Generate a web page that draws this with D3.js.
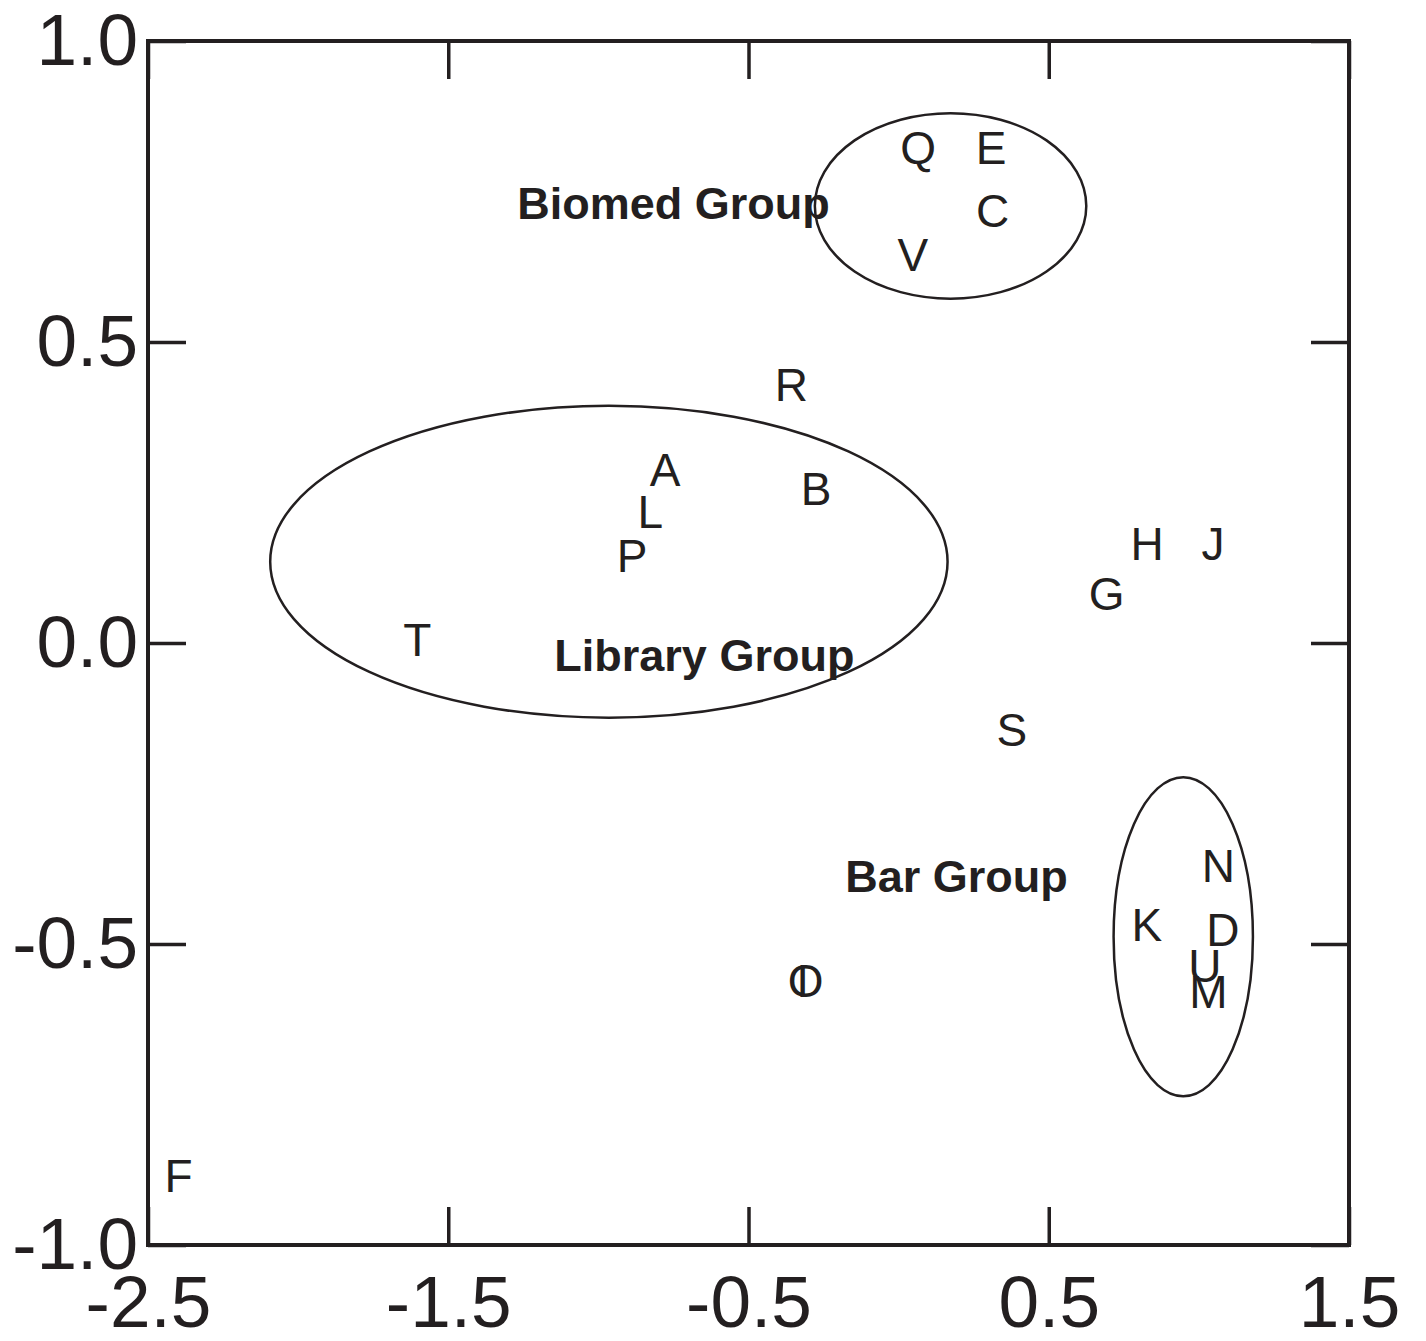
<!DOCTYPE html>
<html>
<head>
<meta charset="utf-8">
<script src="https://cdn.jsdelivr.net/npm/d3@7"></script>
<style>
  body { margin: 0; background: #fff; }
  svg text { font-family: Arial, "Liberation Sans", Helvetica, sans-serif; fill: #231f20; }
</style>
</head>
<body>
<svg id="chart" width="1426" height="1341"></svg>
<script>
// Punktbeschriftungen (Buchstaben) mit Koordinaten
const labels = ["Q","E","C","V","R","A","B","L","P","H","J","G","T","S","N","K","D","U","M","I","O","F"];
const xVals  = [0.065,0.308,0.313,0.047,-0.357,-0.778,-0.275,-0.827,-0.888,0.828,1.047,0.693,-1.603,0.377,1.065,0.827,1.08,1.02,1.032,-0.32,-0.31,-2.398];
const yVals  = [0.824,0.824,0.719,0.645,0.429,0.289,0.256,0.219,0.145,0.166,0.166,0.082,0.006,-0.143,-0.370,-0.468,-0.475,-0.535,-0.579,-0.561,-0.561,-0.885];

// Gruppen: Ellipsen + Beschriftung
const groupNames = ["Biomed Group","Library Group","Bar Group"];
const groupCx = [0.173,-0.965,0.948];
const groupCy = [0.726,0.135,-0.488];
const groupRx = [0.452,1.128,0.232];
const groupRy = [0.154,0.259,0.265];
const groupLabelX = [-0.75,-0.647,0.193];
const groupLabelY = [0.731,-0.02,-0.387];

const xTicks = [-2.5,-1.5,-0.5,0.5,1.5];
const xTickLabels = ["-2.5","-1.5","-0.5","0.5","1.5"];
const yTicks = [-1,-0.5,0,0.5,1];
const yTickLabels = ["-1.0","-0.5","0.0","0.5","1.0"];

const width = 1426, height = 1341;
const margin = { top: 41, right: 77, bottom: 96, left: 148 };
const innerWidth  = width  - margin.left - margin.right;
const innerHeight = height - margin.top  - margin.bottom;
const ink = "#231f20";

const svg = d3.select("#chart");
const g = svg.append("g")
  .attr("transform", `translate(${margin.left},${margin.top})`);

const x = d3.scaleLinear().domain([-2.5, 1.5]).range([0, innerWidth]);
const y = d3.scaleLinear().domain([-1, 1]).range([innerHeight, 0]);

const tickLen = 38;

// Achsen mit nach innen zeigenden Ticks
const xAxis = g.append("g")
  .attr("transform", `translate(0,${innerHeight})`)
  .call(d3.axisBottom(x).tickValues(xTicks).tickSize(-tickLen).tickPadding(30)
    .tickFormat((d, i) => xTickLabels[i]));
const yAxis = g.append("g")
  .call(d3.axisLeft(y).tickValues(yTicks).tickSize(-tickLen).tickPadding(10)
    .tickFormat((d, i) => yTickLabels[i]));
const xTop = g.append("g")
  .call(d3.axisTop(x).tickValues(xTicks).tickSize(-tickLen).tickFormat(""));
const yRight = g.append("g")
  .attr("transform", `translate(${innerWidth},0)`)
  .call(d3.axisRight(y).tickValues(yTicks).tickSize(-tickLen).tickFormat(""));

[xAxis, yAxis, xTop, yRight].forEach(a => {
  a.select(".domain").remove();
  a.selectAll(".tick line").attr("stroke", ink).attr("stroke-width", 3.5);
  a.selectAll(".tick text").attr("font-size", 73).attr("fill", ink);
});

// Rahmen
g.append("rect")
  .attr("x", 0).attr("y", 0)
  .attr("width", innerWidth).attr("height", innerHeight)
  .attr("fill", "none").attr("stroke", ink).attr("stroke-width", 4);

// Ellipsen
g.selectAll("ellipse.grp")
  .data(groupNames)
  .join("ellipse")
  .attr("class", "grp")
  .attr("cx", (d, i) => x(groupCx[i]))
  .attr("cy", (d, i) => y(groupCy[i]))
  .attr("rx", (d, i) => x(groupCx[i] + groupRx[i]) - x(groupCx[i]))
  .attr("ry", (d, i) => y(groupCy[i] - groupRy[i]) - y(groupCy[i]))
  .attr("fill", "none")
  .attr("stroke", ink)
  .attr("stroke-width", 2.5);

// Gruppenbeschriftung
g.selectAll("text.grp")
  .data(groupNames)
  .join("text")
  .attr("class", "grp")
  .attr("x", (d, i) => x(groupLabelX[i]))
  .attr("y", (d, i) => y(groupLabelY[i]))
  .attr("dy", "0.36em")
  .attr("text-anchor", "middle")
  .attr("font-size", 45)
  .attr("font-weight", "bold")
  .text(d => d);

// Buchstaben
g.selectAll("text.pt")
  .data(labels)
  .join("text")
  .attr("class", "pt")
  .attr("x", (d, i) => x(xVals[i]))
  .attr("y", (d, i) => y(yVals[i]))
  .attr("dy", "0.36em")
  .attr("text-anchor", "middle")
  .attr("font-size", 46)
  .text(d => d);
</script>
</body>
</html>
